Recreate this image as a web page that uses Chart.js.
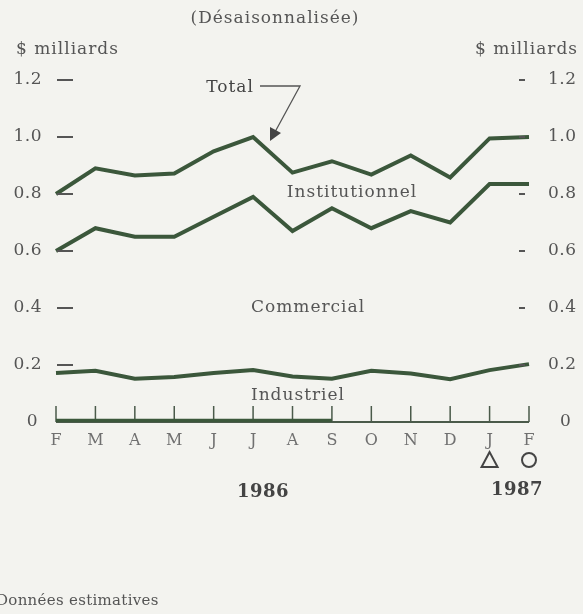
<!DOCTYPE html>
<html>
<head>
<meta charset="utf-8">
<script src="https://cdn.jsdelivr.net/npm/chart.js@4"></script>
<style>
  body { margin: 0; background: #f3f3ef; }
  #wrap { width: 583px; height: 614px; position: relative; }
</style>
</head>
<body>
<div id="wrap"><canvas id="chart"></canvas></div>
<script>
// Chart data
const months = ['F', 'M', 'A', 'M', 'J', 'J', 'A', 'S', 'O', 'N', 'D', 'J', 'F'];
const total = [0.80, 0.89, 0.865, 0.872, 0.95, 1.0, 0.875, 0.915, 0.868, 0.935, 0.858, 0.995, 1.0];
const institutionnel = [0.60, 0.68, 0.65, 0.65, 0.72, 0.79, 0.67, 0.75, 0.68, 0.74, 0.70, 0.835, 0.835];
const commercial = [0.172, 0.18, 0.152, 0.158, 0.172, 0.182, 0.16, 0.152, 0.18, 0.17, 0.15, 0.182, 0.203];
const industriel = [0.004, 0.004, 0.004, 0.004, 0.004, 0.004, 0.004, 0.004, null, null, null, null, null];
const yTicks = [0, 0.2, 0.4, 0.6, 0.8, 1.0, 1.2];
const yTickLabels = ['0', '0.2', '0.4', '0.6', '0.8', '1.0', '1.2'];

const lineColor = '#3b573b';
const inkColor = '#555';
const serif = '"DejaVu Serif", "Liberation Serif", serif';

function setFont(ctx, size, spacing, weight) {
    ctx.font = (weight || '') + ' ' + size + 'px ' + serif;
    ctx.letterSpacing = spacing + 'px';
}

// Draws background, axis, tick labels and annotations using the chart scales
const decorPlugin = {
    id: 'decor',
    beforeDraw(chart) {
        const ctx = chart.ctx;
        ctx.save();
        ctx.fillStyle = '#f3f3ef';
        ctx.fillRect(0, 0, chart.width, chart.height);
        ctx.restore();
    },
    beforeDatasetsDraw(chart) {
        const ctx = chart.ctx;
        const x = chart.scales.x;
        const y = chart.scales.y;
        const y0 = y.getPixelForValue(0);
        ctx.save();
        // baseline
        ctx.strokeStyle = '#4a5a4a';
        ctx.lineWidth = 2;
        ctx.beginPath();
        ctx.moveTo(x.getPixelForValue(0), y0);
        ctx.lineTo(x.getPixelForValue(months.length - 1), y0);
        ctx.stroke();
        // month ticks
        ctx.lineWidth = 1.5;
        months.forEach((m, i) => {
            const px = x.getPixelForValue(i);
            ctx.beginPath();
            ctx.moveTo(px, y0);
            ctx.lineTo(px, y0 - 16);
            ctx.stroke();
        });
        ctx.restore();
    },
    afterDraw(chart) {
        const ctx = chart.ctx;
        const x = chart.scales.x;
        const y = chart.scales.y;
        const left = x.getPixelForValue(0);
        const right = x.getPixelForValue(months.length - 1);
        ctx.save();
        ctx.fillStyle = inkColor;
        ctx.strokeStyle = inkColor;
        ctx.textBaseline = 'middle';
        setFont(ctx, 17, 0.5);

        // y tick labels and dashes on both sides
        yTicks.forEach((v, i) => {
            const py = y.getPixelForValue(v);
            ctx.textAlign = 'right';
            ctx.fillText(yTickLabels[i], v === 0 ? 38 : 42, py);
            ctx.textAlign = 'left';
            ctx.fillText(yTickLabels[i], v === 0 ? 560 : 548, py);
            if (v > 0) {
                ctx.lineWidth = 2;
                ctx.beginPath();
                ctx.moveTo(left + 1, py);
                ctx.lineTo(left + 17, py);
                ctx.stroke();
                ctx.beginPath();
                ctx.moveTo(right - 10, py);
                ctx.lineTo(right - 4, py);
                ctx.stroke();
            }
        });

        // month labels
        ctx.textAlign = 'center';
        ctx.fillStyle = '#707070';
        setFont(ctx, 16, 0);
        months.forEach((m, i) => {
            ctx.fillText(m, x.getPixelForValue(i), 441);
        });

        // estimated-data markers
        ctx.strokeStyle = '#444';
        ctx.lineWidth = 2;
        const tx = x.getPixelForValue(11);
        ctx.beginPath();
        ctx.moveTo(tx, 452);
        ctx.lineTo(tx - 8, 467);
        ctx.lineTo(tx + 8, 467);
        ctx.closePath();
        ctx.stroke();
        ctx.beginPath();
        ctx.arc(x.getPixelForValue(12), 460, 7, 0, Math.PI * 2);
        ctx.stroke();

        // titles and units
        ctx.fillStyle = inkColor;
        setFont(ctx, 17, 1);
        ctx.textAlign = 'center';
        ctx.fillText('(Désaisonnalisée)', 275, 19);
        ctx.textAlign = 'left';
        ctx.fillText('$ milliards', 16, 50);
        ctx.textAlign = 'right';
        ctx.fillText('$ milliards', 578, 50);

        // series labels
        ctx.textAlign = 'center';
        ctx.fillText('Institutionnel', 352, 193);
        ctx.fillText('Commercial', 308, 308);
        ctx.fillText('Industriel', 298, 396);
        ctx.fillStyle = '#444';
        ctx.fillText('Total', 230, 88);

        // arrow for Total
        ctx.lineWidth = 1.3;
        ctx.strokeStyle = inkColor;
        ctx.beginPath();
        ctx.moveTo(260, 86);
        ctx.lineTo(300, 86);
        ctx.lineTo(275, 132);
        ctx.stroke();
        ctx.beginPath();
        ctx.moveTo(270, 141);
        ctx.lineTo(270, 127);
        ctx.lineTo(281, 133);
        ctx.closePath();
        ctx.fill();

        // years
        setFont(ctx, 18, 0.5, 'bold');
        ctx.fillStyle = '#444';
        ctx.textAlign = 'center';
        ctx.fillText('1986', 263, 492);
        ctx.fillText('1987', 517, 490);

        // footnote
        setFont(ctx, 15, 0.3);
        ctx.textAlign = 'left';
        ctx.fillStyle = inkColor;
        ctx.fillText('Données estimatives', -4, 601);
        ctx.restore();
    }
};

function series(label, data, width) {
    return {
        label: label,
        data: data,
        borderColor: lineColor,
        borderWidth: width,
        pointRadius: 0,
        tension: 0,
        fill: false,
        spanGaps: false
    };
}

new Chart(document.getElementById('chart'), {
    type: 'line',
    data: {
        labels: months,
        datasets: [
            series('Total', total, 4),
            series('Institutionnel', institutionnel, 4),
            series('Commercial', commercial, 4),
            series('Industriel', industriel, 4)
        ]
    },
    options: {
        responsive: true,
        maintainAspectRatio: false,
        animation: false,
        layout: { padding: { left: 56, right: 54, top: 80, bottom: 192 } },
        plugins: {
            legend: { display: false },
            tooltip: { enabled: false }
        },
        scales: {
            x: { display: false, offset: false },
            y: { display: false, min: 0, max: 1.2 }
        }
    },
    plugins: [decorPlugin]
});
</script>
</body>
</html>
